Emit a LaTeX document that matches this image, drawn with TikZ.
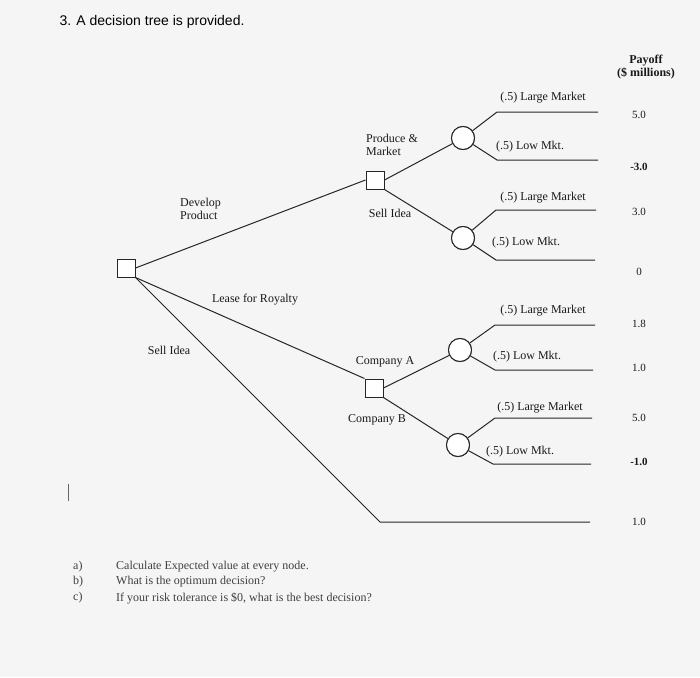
\documentclass[tikz,border=0pt]{standalone}
\usepackage{fontspec}
\setmainfont{Liberation Serif}
\newfontfamily\titlefont{Liberation Sans}
\begin{document}
\begin{tikzpicture}[x=1pt,y=-1pt,
  dec/.style={draw=black!85,fill=white,minimum size=18pt,inner sep=0pt,line width=1pt},
  chance/.style={draw=black!85,circle,minimum size=23pt,inner sep=0pt,line width=1pt},
  br/.style={draw=black!85,line width=1pt},
  lbl/.style={font=\fontsize{12}{13}\selectfont,text=black!90,inner sep=1pt},
  pay/.style={font=\fontsize{11}{12}\selectfont,text=black!90}]
\fill[gray!8] (0,0) rectangle (700,677);
\useasboundingbox (0,0) rectangle (700,677);
\node[anchor=west,font=\titlefont\fontsize{14}{15}\selectfont] (title) at (56,22) {3. A decision tree is provided.};
% nodes
\node[dec] (root) at (126,268) {};
\node[dec] (d1) at (375,180) {};
\node[dec] (d2) at (374,388) {};
\node[chance] (c1) at (463,138) {};
\node[chance] (c2) at (463,238) {};
\node[chance] (c3) at (460,350) {};
\node[chance] (c4) at (458,445) {};
\foreach \n/\y/\xa/\xb in {e1/112/497/598,e2/160/497/598,e3/210/496/596,e4/260/496/595,e5/325/495/595,e6/370/495/593,e7/418/495/592,e8/464/493/591,e9/522/380/590}{
  \coordinate (\n a) at (\xa,\y); \coordinate (\n b) at (\xb,\y);}
\draw[br] (root.east) -- (d1.west);
\draw[br] (root.south east) -- (d2.north west);
\draw[br] (root.south east) -- (e9a) -- (e9b);
\draw[br] (d1.east) -- (c1);
\draw[br] (d1.south east) -- (c2);
\draw[br] (d2.east) -- (c3);
\draw[br] (d2.south east) -- (c4);
\draw[br] (c1) -- (e1a) -- (e1b); \draw[br] (c1) -- (e2a) -- (e2b);
\draw[br] (c2) -- (e3a) -- (e3b); \draw[br] (c2) -- (e4a) -- (e4b);
\draw[br] (c3) -- (e5a) -- (e5b); \draw[br] (c3) -- (e6a) -- (e6b);
\draw[br] (c4) -- (e7a) -- (e7b); \draw[br] (c4) -- (e8a) -- (e8b);
% redraw nodes on top
\node[dec] at (root) {}; \node[dec] at (d1) {}; \node[dec] at (d2) {};
\node[chance,fill=white] at (c1) {}; \node[chance,fill=white] at (c2) {};
\node[chance,fill=white] at (c3) {}; \node[chance,fill=white] at (c4) {};
% labels
\node[lbl,align=center] (ph) at (646,67) {\textbf{Payoff}\\\textbf{(\$ millions)}};
\foreach \n/\x/\y/\t in {l1/543/98/{(.5) Large Market},l2/530/147/{(.5) Low Mkt.},l3/543/198/{(.5) Large Market},l4/526/243/{(.5) Low Mkt.},l5/543/311/{(.5) Large Market},l6/527/357/{(.5) Low Mkt.},l7/540/408/{(.5) Large Market},l8/520/452/{(.5) Low Mkt.}}
  \node[lbl] (\n) at (\x,\y) {\t};
\node[lbl,align=left,anchor=west] (pm) at (365,145) {Produce \&\\Market};
\node[lbl] (si1) at (390,213) {Sell Idea};
\node[lbl,align=left,anchor=west] (dp) at (179,209) {Develop\\Product};
\node[lbl] (lr) at (255,300) {Lease for Royalty};
\node[lbl] (si2) at (169,350) {Sell Idea};
\node[lbl] (ca) at (385,362) {Company A};
\node[lbl] (cb) at (377,420) {Company B};
\foreach \n/\y/\t in {p1/115/5.0,p2/167/\textbf{-3.0},p3/212/3.0,p4/272/0,p5/324/1.8,p6/368/1.0,p7/418/5.0,p8/462/\textbf{-1.0},p9/522/1.0}
  \node[pay] (\n) at (639,\y) {\t};
\draw[black!60,line width=0.8pt] (68,484) -- (68,501);
\foreach \n/\y/\l/\t in {qa/567/a)/{Calculate Expected value at every node.},qb/582/b)/{What is the optimum decision?},qc/598/c)/{If your risk tolerance is \$0, what is the best decision?}}{
  \node[lbl,anchor=west,text=black!75] at (72,\y) {\l};
  \node[lbl,anchor=west,text=black!75] (\n) at (115,\y) {\t};}
\end{tikzpicture}
\end{document}
